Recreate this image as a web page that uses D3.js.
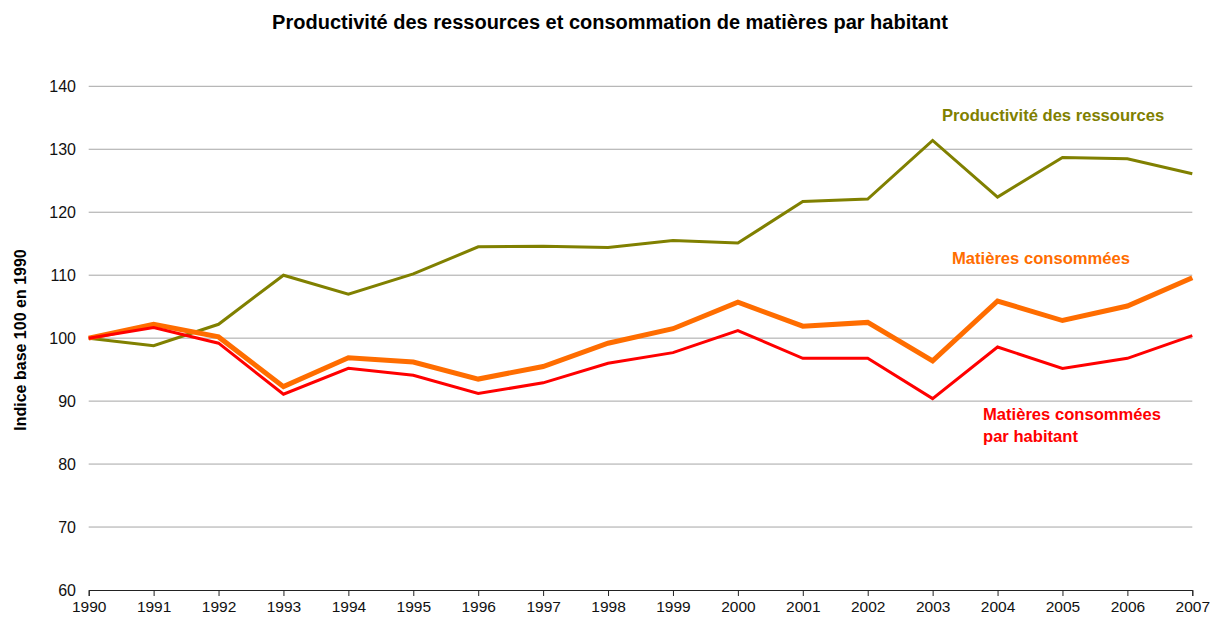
<html>
<head>
<meta charset="UTF-8">
<title>Productivité des ressources</title>
<script src="https://d3js.org/d3.v7.min.js"></script>
<style>
  body { margin: 0; background: #fff; }
  svg { display: block; font-family: "Liberation Sans", Arial, sans-serif; }
</style>
</head>
<body>
<script type="text/javascript">
var years = [1990, 1991, 1992, 1993, 1994, 1995, 1996, 1997, 1998, 1999, 2000, 2001, 2002, 2003, 2004, 2005, 2006, 2007];
var productivite = [100, 98.8, 102.2, 110.0, 107.0, 110.2, 114.5, 114.6, 114.4, 115.5, 115.1, 121.7, 122.1, 131.4, 122.4, 128.7, 128.5, 126.1];
var matieres = [100, 102.2, 100.2, 92.3, 96.9, 96.2, 93.5, 95.5, 99.2, 101.5, 105.7, 101.9, 102.5, 96.4, 105.9, 102.8, 105.1, 109.6];
var parHabitant = [100, 101.7, 99.2, 91.1, 95.2, 94.1, 91.2, 92.9, 96.0, 97.7, 101.2, 96.8, 96.8, 90.4, 98.6, 95.2, 96.8, 100.4];
var yTicks = [60, 70, 80, 90, 100, 110, 120, 130, 140];

var width = 1211, height = 618;
var plotLeft = 88.7, plotRight = 1192.3, plotTop = 86.3, plotBottom = 590;

var svg = d3.select("body").append("svg")
  .attr("width", width)
  .attr("height", height);

var x = d3.scaleLinear().domain([1990, 2007]).range([plotLeft, plotRight]);
var y = d3.scaleLinear().domain([60, 140]).range([plotBottom, plotTop]);

// gridlines
svg.append("g")
  .selectAll("line")
  .data(yTicks.filter(function(d){ return d > 60; }))
  .enter()
  .append("line")
  .attr("x1", plotLeft)
  .attr("x2", plotRight)
  .attr("y1", function(d){ return y(d); })
  .attr("y2", function(d){ return y(d); })
  .attr("stroke", "#a6a6a6")
  .attr("stroke-width", 1);

// y tick labels
svg.append("g")
  .selectAll("text")
  .data(yTicks)
  .enter()
  .append("text")
  .attr("x", 76)
  .attr("y", function(d){ return y(d) + 5.5; })
  .attr("text-anchor", "end")
  .style("font-size", "16px")
  .attr("fill", "#111")
  .text(function(d){ return d; });

// x axis
var xAxis = d3.axisBottom(x)
  .tickValues(years)
  .tickFormat(d3.format("d"))
  .tickSize(6)
  .tickPadding(5);

var gx = svg.append("g")
  .attr("transform", "translate(0," + plotBottom + ")")
  .call(xAxis);
gx.select(".domain").attr("stroke", "#222").attr("stroke-width", 1);
gx.selectAll(".tick line").attr("stroke", "#222");
gx.selectAll(".tick text")
  .style("font-size", "15.5px")
  .style("font-family", "'Liberation Sans', Arial, sans-serif")
  .attr("fill", "#111");

var line = d3.line()
  .x(function(d, i){ return x(years[i]); })
  .y(function(d){ return y(d); });

var series = [
  { values: productivite, color: "#808000", w: 3 },
  { values: matieres, color: "#ff6d00", w: 5 },
  { values: parHabitant, color: "#ff0000", w: 3 }
];

svg.append("g")
  .selectAll("path")
  .data(series)
  .enter()
  .append("path")
  .attr("d", function(d){ return line(d.values); })
  .attr("fill", "none")
  .attr("stroke", function(d){ return d.color; })
  .attr("stroke-width", function(d){ return d.w; })
  .attr("stroke-linejoin", "miter");

// title
svg.append("text")
  .attr("x", 610)
  .attr("y", 29)
  .attr("text-anchor", "middle")
  .style("font-size", "20px")
  .style("font-weight", "bold")
  .attr("fill", "#000")
  .text("Productivité des ressources et consommation de matières par habitant");

// y axis title
svg.append("text")
  .attr("transform", "translate(26,340) rotate(-90)")
  .attr("text-anchor", "middle")
  .style("font-size", "16px")
  .style("font-weight", "bold")
  .attr("fill", "#000")
  .text("Indice base 100 en 1990");

// series labels
var labelStyle = function(sel, color){
  sel.style("font-size", "16.6px").style("font-weight", "bold").attr("fill", color);
};

svg.append("text")
  .attr("x", 942)
  .attr("y", 121)
  .call(labelStyle, "#808000")
  .text("Productivité des ressources");

svg.append("text")
  .attr("x", 952)
  .attr("y", 264)
  .call(labelStyle, "#ff6d00")
  .text("Matières consommées");

svg.append("text")
  .attr("x", 983)
  .attr("y", 420)
  .call(labelStyle, "#ff0000")
  .text("Matières consommées");

svg.append("text")
  .attr("x", 983)
  .attr("y", 442)
  .call(labelStyle, "#ff0000")
  .text("par habitant");
</script>
</body>
</html>
